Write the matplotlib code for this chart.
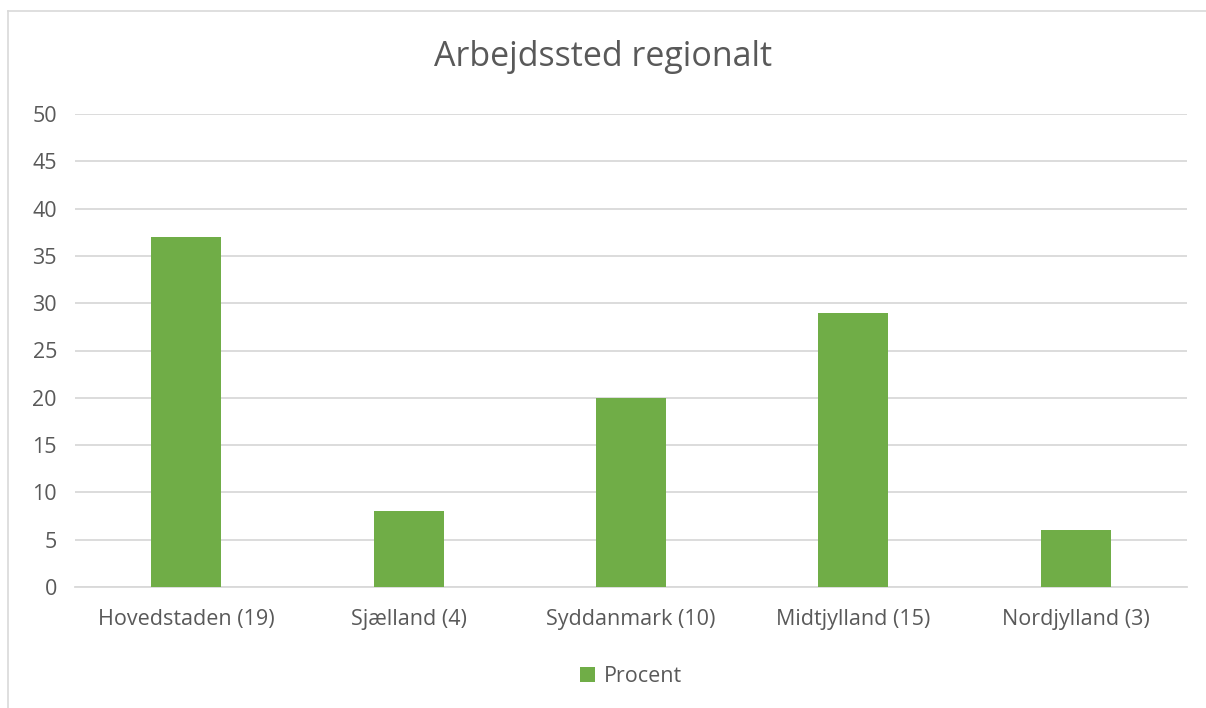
import matplotlib
matplotlib.use('Agg')
import matplotlib.pyplot as plt
from matplotlib.lines import Line2D

regions = ['Hovedstaden (19)', 'Sjælland (4)', 'Syddanmark (10)',
           'Midtjylland (15)', 'Nordjylland (3)']
procent = [37, 8, 20, 29, 6]
yticks = [0, 5, 10, 15, 20, 25, 30, 35, 40, 45, 50]

green = '#70AD47'
textcol = '#595959'
gridcol = '#D9D9D9'

plt.rcParams['font.family'] = ['Open Sans', 'DejaVu Sans']

fig = plt.figure(figsize=(12.06, 7.08), dpi=100)
ax = fig.add_axes([75 / 1206, 1 - 587 / 708, 1112 / 1206, 473 / 708])

x = range(len(regions))
ax.bar(x, procent, width=0.315, color=green, label='Procent', zorder=3)

ax.set_xlim(-0.5, len(regions) - 0.5)
ax.set_ylim(0, 50)
ax.set_yticks(yticks)
ax.set_xticks(list(x))
ax.set_xticklabels(regions)
ax.grid(axis='y', color=gridcol, linewidth=1.3, zorder=0)
for s in ['top', 'right', 'left']:
    ax.spines[s].set_visible(False)
ax.spines['bottom'].set_color(gridcol)
ax.spines['bottom'].set_linewidth(1.3)
ax.tick_params(axis='both', length=0, labelsize=15.5, colors=textcol)
ax.tick_params(axis='y', pad=13)
ax.tick_params(axis='x', pad=16)

fig.text(0.5, 1 - 57 / 708, 'Arbejdssted regionalt', ha='center', va='center',
         fontsize=24.5, color=textcol)

ax.legend(loc='center', bbox_to_anchor=(0.5, -0.19), frameon=False,
          fontsize=15.5, labelcolor=textcol, handlelength=0.7, handleheight=0.7,
          handletextpad=0.4)

# chart frame (left and top edges visible)
fig.add_artist(Line2D([7.5 / 1206, 7.5 / 1206], [0, 1 - 10.5 / 708],
                      color=gridcol, linewidth=1.2, transform=fig.transFigure))
fig.add_artist(Line2D([7.5 / 1206, 1], [1 - 10.5 / 708, 1 - 10.5 / 708],
                      color=gridcol, linewidth=1.2, transform=fig.transFigure))

fig.savefig('out.png', dpi=100)
